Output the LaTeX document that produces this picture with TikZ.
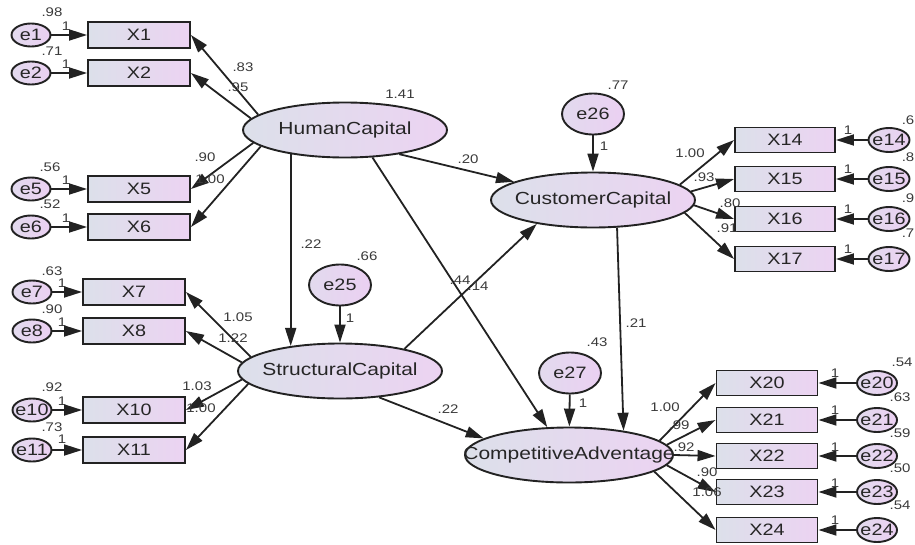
\documentclass[tikz,border=0pt]{standalone}
\usepackage{fontspec}
\setmainfont{Liberation Sans}[FakeStretch=1.2]
\usetikzlibrary{shapes.geometric,arrows.meta}
\definecolor{fl}{HTML}{DCE0EA}
\definecolor{fr}{HTML}{ECD3F2}
\definecolor{el}{HTML}{E2DAEE}
\definecolor{er}{HTML}{EBD0F2}
\definecolor{lbl}{HTML}{3A3A3A}
\definecolor{edge}{HTML}{222222}
\begin{document}
\begin{tikzpicture}[x=1pt,y=-1pt,
  obs/.style={draw=edge, line width=1.9pt, left color=fl, right color=fr,
    minimum width=102pt, minimum height=26pt, inner sep=0pt,
    font=\fontsize{16.5}{18}\selectfont, text=black!85},
  lat/.style={ellipse, draw=edge, line width=1.9pt, left color=fl, right color=fr,
    minimum width=204pt, minimum height=55pt, inner sep=0pt},
  err/.style={ellipse, draw=edge, line width=1.9pt, left color=el, right color=er,
    minimum width=39pt, minimum height=23pt, inner sep=0pt},
  bigerr/.style={err, minimum width=62pt, minimum height=41pt},
  lt/.style={font=\fontsize{17.5}{19}\selectfont, text=black!85, inner sep=0pt},
  et/.style={font=\fontsize{16.5}{18}\selectfont, text=black!85, inner sep=0pt},
  num/.style={font=\fontsize{12.5}{14}\selectfont, text=lbl, inner sep=0pt},
  arr/.style={draw=edge, line width=1.8pt, -{Triangle[length=18pt,width=11pt]}},
]
\useasboundingbox (0,0) rectangle (915,544);

% latent variables
\node[lat, label={[lt]center:HumanCapital}] (HC) at (345,130) {};
\node[lat, label={[lt]center:StructuralCapital}] (SC) at (340,371) {};
\node[lat, label={[lt]center:CustomerCapital}] (CC) at (593,200) {};
\node[lat, minimum width=208pt, label={[lt]center:CompetitiveAdventage}] (CA) at (569,455) {};

% disturbances
\node[bigerr, label={[et]center:e25}] (e25) at (340,285) {};
\node[bigerr, label={[et]center:e26}] (e26) at (593,114) {};
\node[bigerr, label={[et]center:e27}] (e27) at (570,373) {};

% left observed
\foreach \n/\y in {1/35,2/73,5/189,6/227} {
  \node[obs] (X\n) at (139,\y) {X\n};
  \node[err, label={[et]center:e\n}] (e\n) at (31,\y) {};
  \draw[arr] (e\n) -- (X\n);
}
\foreach \n/\y in {7/292,8/331,10/410,11/450} {
  \node[obs] (X\n) at (134,\y) {X\n};
  \node[err, label={[et]center:e\n}] (e\n) at (32,\y) {};
  \draw[arr] (e\n) -- (X\n);
}
% right observed
\foreach \n/\y in {14/140,15/179,16/219,17/259} {
  \node[obs, minimum width=100pt, minimum height=25pt] (X\n) at (785,\y) {X\n};
  \node[err, minimum width=41pt, minimum height=24pt, label={[et]center:e\n}] (e\n) at (889,\y) {};
  \draw[arr] (e\n) -- (X\n);
}
\foreach \n/\y in {20/383,21/420,22/456,23/492,24/530} {
  \node[obs, minimum width=101pt, minimum height=25pt] (X\n) at (767,\y) {X\n};
  \node[err, minimum width=40pt, minimum height=24pt, label={[et]center:e\n}] (e\n) at (877,\y) {};
  \draw[arr] (e\n) -- (X\n);
}

% loadings
\draw[arr] (HC.170) -- (X1.east);
\draw[arr] (HC.173) -- (X2.east);
\draw[arr] (HC.188) -- (X5.east);
\draw[arr] (HC.191) -- (X6.east);
\draw[arr] (SC.171) -- (X7.east);
\draw[arr] (SC.175) -- (X8.east);
\draw[arr] (SC.185) -- (X10.east);
\draw[arr] (SC.188) -- (X11.east);
\draw[arr] (CC.10) -- (X14.west);
\draw[arr] (CC.5) -- (X15.west);
\draw[arr] (CC.357) -- (X16.west);
\draw[arr] (CC.352) -- (X17.west);
\draw[arr] (CA.9) -- (X20.west);
\draw[arr] (CA.6) -- (X21.west);
\draw[arr] (CA.east) -- (X22.west);
\draw[arr] (CA.354) -- (X23.west);
\draw[arr] (CA.349) -- (X24.west);

% structural paths
\draw[arr] (HC.204) -- (HC.204 |- SC.153);
\draw[arr] (HC.336) -- (CC.167);
\draw[arr] (HC.315) -- (CA.128);
\draw[arr] (SC.19) -- (CC.203);
\draw[arr] (SC.326) -- (CA.169);
\draw[arr] (CC.311) -- (CA.24);
\draw[arr] (e25) -- (SC);
\draw[arr] (e26) -- (CC);
\draw[arr] (e27) -- (CA);

% numeric labels
\foreach \x/\y/\t [count=\i] in {
  52/12/.98, 66/26/1, 52/51/.71, 66/64/1, 50/167/.56, 66/180/1, 50/204/.52, 66/218/1,
  243/67/.83, 238/87/.95, 205/157/.90, 210/179/1.00,
  400/94/1.41, 468/159/.20, 311/244/.22, 367/256/.66, 350/318/1, 460/280/.44, 478/286/.14,
  52/271/.63, 62/283/1, 52/309/.90, 62/322/1, 52/387/.92, 62/401/1, 52/427/.73, 62/439/1,
  238/317/1.05, 233/338/1.22, 197/386/1.03, 201/408/1.00, 448/409/.22,
  618/85/.77, 604/146/1, 690/153/1.00, 704/177/.93, 730/203/.80, 727/228/.91, 636/323/.21,
  848/130/1, 848/169/1, 848/209/1, 848/249/1,
  908/120/.6, 908/157/.8, 908/198/.9, 908/233/.7,
  597/342/.43, 583/403/1, 665/407/1.00, 679/425/.99, 684/447/.92, 707/472/.90, 707/492/1.06,
  835/373/1, 835/410/1, 835/447/1, 835/483/1, 835/520/1,
  902/362/.54, 900/397/.63, 900/433/.59, 900/468/.50, 900/505/.54} {
  \node[num] (n\i) at (\x,\y) {\t};
}
\end{tikzpicture}
\end{document}
